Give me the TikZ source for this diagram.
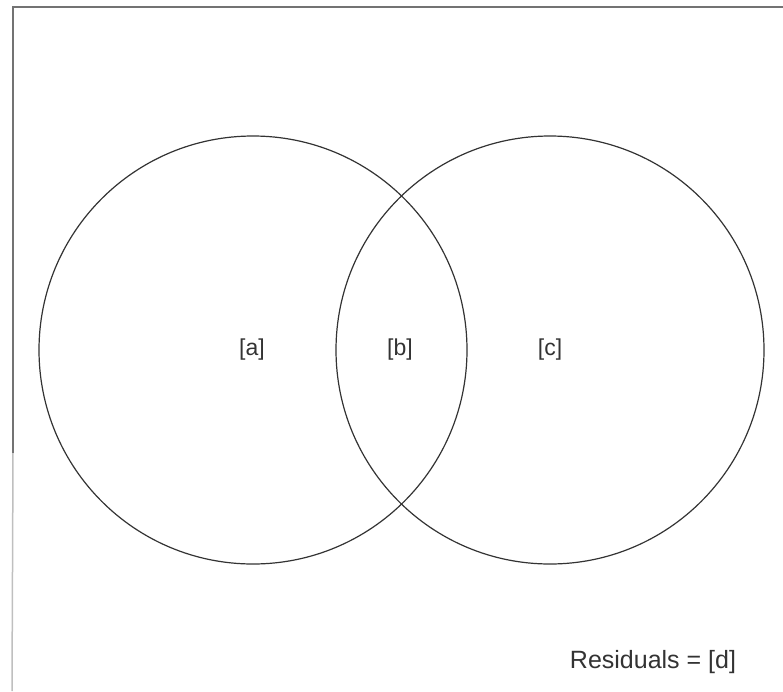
\documentclass[tikz,border=0pt]{standalone}
\usepackage{fontspec}
\setmainfont{Liberation Sans}
\begin{document}
\begin{tikzpicture}[x=1pt,y=-1pt,
  set/.style={draw=black!80,line width=1.2pt},
  lbl/.style={font=\fontsize{23}{27}\selectfont,text=black!80,inner sep=0pt},
  frame/.style={draw=black!55,line width=2pt}]
\useasboundingbox (0,0) rectangle (783,691);
\coordinate (tl) at (13,6.5);
\coordinate (tr) at (783,6.5);
\coordinate (lm) at (13,453);
\coordinate (lb) at (12,691);
\draw[frame] (tr) -- (tl) -- (lm);
\draw[draw=black!25,line width=1.5pt] (lm) -- (lb);
\node[set,circle,minimum size=428pt,inner sep=0pt] (A) at (253,350) {};
\node[set,circle,minimum size=428pt,inner sep=0pt] (C) at (550,350) {};
\node[lbl] (a) at (252,350) {[a]};
\node[lbl] (b) at (400,350) {[b]};
\node[lbl] (c) at (550,350) {[c]};
\node[lbl,font=\fontsize{25}{30}\selectfont] (d) at (653,662) {Residuals = [d]};
\end{tikzpicture}
\end{document}
